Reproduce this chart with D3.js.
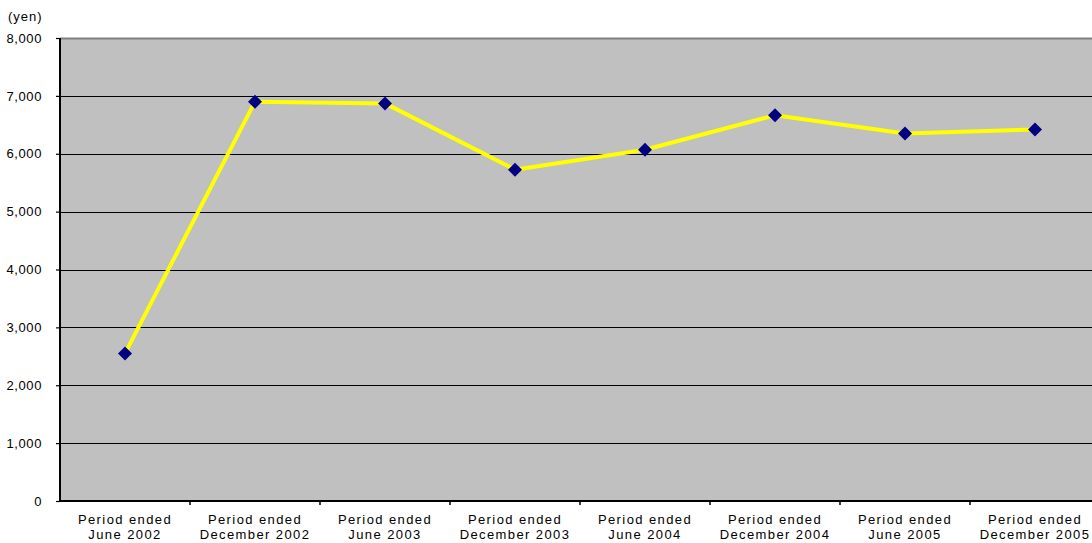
<!DOCTYPE html>
<html>
<head>
<meta charset="utf-8">
<script src="https://cdn.jsdelivr.net/npm/d3@7"></script>
<style>
  html, body { margin: 0; padding: 0; background: #fff; }
  svg { display: block; }
  text { font-family: Arial, "Liberation Sans", sans-serif; fill: #000; }
</style>
</head>
<body>
<svg id="chart" width="1092" height="543"></svg>
<script>
// Period labels (two lines each)
const periodLine1 = ["Period ended", "Period ended", "Period ended", "Period ended",
                     "Period ended", "Period ended", "Period ended", "Period ended"];
const periodLine2 = ["June 2002", "December 2002", "June 2003", "December 2003",
                     "June 2004", "December 2004", "June 2005", "December 2005"];
// Values in yen
const values = [2550, 6900, 6870, 5725, 6070, 6665, 6350, 6420];
// Y-axis ticks
const yTicks = [0, 1000, 2000, 3000, 4000, 5000, 6000, 7000, 8000];

const svg = d3.select("#chart");
const plot = { left: 60, top: 38, right: 1100, bottom: 501 };

const x = d3.scaleBand()
  .domain(d3.range(values.length))
  .range([plot.left, plot.right])
  .padding(0);

const y = d3.scaleLinear()
  .domain([0, 8000])
  .range([plot.bottom, plot.top]);

// Plot background
svg.append("rect")
  .attr("x", plot.left).attr("y", plot.top)
  .attr("width", plot.right - plot.left)
  .attr("height", plot.bottom - plot.top)
  .attr("fill", "#c0c0c0");

// Top border
svg.append("line")
  .attr("x1", plot.left).attr("x2", plot.right)
  .attr("y1", plot.top + 0.5).attr("y2", plot.top + 0.5)
  .attr("stroke", "#808080").attr("stroke-width", 2);

// Horizontal gridlines
svg.append("g")
  .selectAll("line")
  .data(yTicks.filter(d => d > 0 && d < 8000))
  .join("line")
  .attr("x1", plot.left).attr("x2", plot.right)
  .attr("y1", d => Math.round(y(d)) + 0.5)
  .attr("y2", d => Math.round(y(d)) + 0.5)
  .attr("stroke", "#000").attr("stroke-width", 1.2);

// Y axis
const yAxis = d3.axisLeft(y)
  .tickValues(yTicks)
  .tickFormat(d3.format(","))
  .tickSize(4)
  .tickPadding(14);

const gy = svg.append("g")
  .attr("transform", `translate(${plot.left},0)`)
  .call(yAxis);
gy.select(".domain").remove();
gy.selectAll(".tick line").attr("stroke", "#000").attr("stroke-width", 1.2);
gy.selectAll(".tick text")
  .attr("font-size", 13)
  .attr("letter-spacing", 0.6)
  .attr("font-family", "Arial, 'Liberation Sans', sans-serif");

// Left axis line
svg.append("line")
  .attr("x1", plot.left).attr("x2", plot.left)
  .attr("y1", plot.top).attr("y2", plot.bottom + 1)
  .attr("stroke", "#000").attr("stroke-width", 2);

// Bottom axis line
svg.append("line")
  .attr("x1", plot.left - 1).attr("x2", plot.right)
  .attr("y1", plot.bottom).attr("y2", plot.bottom)
  .attr("stroke", "#000").attr("stroke-width", 2);

// Category boundary ticks
svg.append("g")
  .selectAll("line")
  .data(d3.range(1, values.length))
  .join("line")
  .attr("x1", i => x(i)).attr("x2", i => x(i))
  .attr("y1", plot.bottom).attr("y2", plot.bottom + 4)
  .attr("stroke", "#000").attr("stroke-width", 1.5);

// Category labels
const labels = svg.append("g")
  .selectAll("text")
  .data(d3.range(values.length))
  .join("text")
  .attr("x", i => x(i) + x.bandwidth() / 2)
  .attr("y", 524)
  .attr("text-anchor", "middle")
  .attr("font-size", 13)
  .attr("letter-spacing", 1.4);
labels.append("tspan")
  .attr("x", i => x(i) + x.bandwidth() / 2)
  .text(i => periodLine1[i]);
labels.append("tspan")
  .attr("x", i => x(i) + x.bandwidth() / 2)
  .attr("dy", 14.5)
  .text(i => periodLine2[i]);

// Unit label
svg.append("text")
  .attr("x", 8).attr("y", 21)
  .attr("font-size", 13)
  .attr("letter-spacing", 1)
  .text("(yen)");

// Line series
const line = d3.line()
  .x((d, i) => x(i) + x.bandwidth() / 2)
  .y(d => y(d));

svg.append("path")
  .datum(values)
  .attr("d", line)
  .attr("fill", "none")
  .attr("stroke", "#ffff00")
  .attr("stroke-width", 4)
  .attr("stroke-linejoin", "round");

// Diamond markers
svg.append("g")
  .selectAll("path")
  .data(values)
  .join("path")
  .attr("transform", (d, i) => `translate(${x(i) + x.bandwidth() / 2},${y(d)})`)
  .attr("d", "M0,-7L7,0L0,7L-7,0Z")
  .attr("fill", "#000080");
</script>
</body>
</html>
